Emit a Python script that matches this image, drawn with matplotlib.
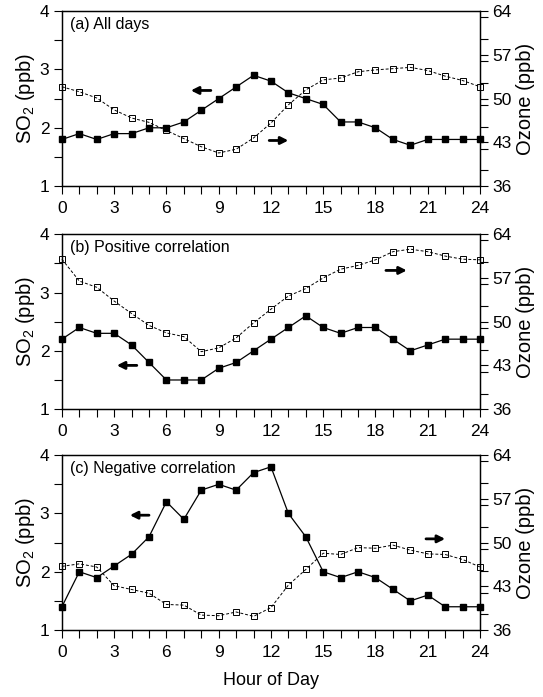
import numpy as np
import matplotlib
matplotlib.use('Agg')
import matplotlib.pyplot as plt
from matplotlib.ticker import MultipleLocator

plt.rcParams['font.family'] = ['Liberation Sans', 'DejaVu Sans']
plt.rcParams['mathtext.default'] = 'regular'

# Hour of day
hours = list(range(25))

# (a) All days
so2_all = [1.8, 1.9, 1.8, 1.9, 1.9, 2.0, 2.0, 2.1, 2.3, 2.5, 2.7, 2.9, 2.8,
           2.6, 2.5, 2.4, 2.1, 2.1, 2.0, 1.8, 1.7, 1.8, 1.8, 1.8, 1.8]
o3_all = [51.9, 51.1, 50.1, 48.2, 46.9, 46.2, 44.9, 43.6, 42.3, 41.3, 41.9, 43.7, 46.1,
          49.0, 51.4, 53.0, 53.3, 54.3, 54.6, 54.8, 55.0, 54.5, 53.6, 52.9, 51.9]

# (b) Positive correlation
so2_pos = [2.2, 2.4, 2.3, 2.3, 2.1, 1.8, 1.5, 1.5, 1.5, 1.7, 1.8, 2.0, 2.2,
           2.4, 2.6, 2.4, 2.3, 2.4, 2.4, 2.2, 2.0, 2.1, 2.2, 2.2, 2.2]
o3_pos = [60.0, 56.5, 55.5, 53.3, 51.3, 49.4, 48.2, 47.6, 45.2, 45.8, 47.4, 49.8, 52.0,
          54.1, 55.3, 57.0, 58.4, 59.0, 59.9, 61.2, 61.6, 61.2, 60.5, 60.0, 59.9]

# (c) Negative correlation
so2_neg = [1.4, 2.0, 1.9, 2.1, 2.3, 2.6, 3.2, 2.9, 3.4, 3.5, 3.4, 3.7, 3.8,
           3.0, 2.6, 2.0, 1.9, 2.0, 1.9, 1.7, 1.5, 1.6, 1.4, 1.4, 1.4]
o3_neg = [46.2, 46.6, 46.1, 43.1, 42.5, 41.9, 40.1, 40.0, 38.4, 38.3, 38.9, 38.2, 39.6,
          43.2, 45.7, 48.3, 48.1, 49.2, 49.1, 49.6, 48.8, 48.2, 48.1, 47.3, 46.1]

titles = ['(a) All days', '(b) Positive correlation', '(c) Negative correlation']
so2_sets = [so2_all, so2_pos, so2_neg]
o3_sets = [o3_all, o3_pos, o3_neg]

# arrows (tail x, head x, y): left ones on the SO2 axis, right ones on the ozone axis
left_arrows = [(8.55, 7.4, 2.64), (4.3, 3.15, 1.75), (5.0, 3.9, 2.97)]
right_arrows = [(11.9, 13.0, 43.3), (18.6, 19.8, 58.2), (20.9, 22.0, 50.6)]

fig = plt.figure(figsize=(5.43, 6.97), dpi=100)
bottoms = [0.733, 0.413, 0.096]
height = 0.251

for i in range(3):
    ax = fig.add_axes([0.114, bottoms[i], 0.770, height])
    ax2 = ax.twinx()

    ax.plot(hours, so2_sets[i], color='black', lw=0.9, marker='s', ms=5,
            mfc='black', mec='black', clip_on=False, zorder=3)
    ax2.plot(hours, o3_sets[i], color='black', lw=0.7, ls=(0, (3, 2)), marker='s', ms=4.5,
             mfc='none', mec='black', mew=0.7, clip_on=False, zorder=3)

    ax.set_xlim(0, 24)
    ax.set_ylim(1, 4)
    ax2.set_ylim(36, 64)
    ax.xaxis.set_major_locator(MultipleLocator(3))
    ax.xaxis.set_minor_locator(MultipleLocator(1))
    ax.yaxis.set_major_locator(MultipleLocator(1))
    ax.yaxis.set_minor_locator(MultipleLocator(0.5))
    ax2.set_yticks([36, 43, 50, 57, 64])
    ax2.yaxis.set_minor_locator(MultipleLocator(3.5))

    for a in (ax, ax2):
        a.tick_params(which='both', direction='out', labelsize=12.5, width=0.8,
                      length=5.5, pad=3.5)
        for s in a.spines.values():
            s.set_linewidth(0.9)
    ax.tick_params(axis='x', pad=5)

    ax.set_ylabel('SO$_2$ (ppb)', fontsize=14.5, labelpad=2)
    ax2.set_ylabel('Ozone (ppb)', fontsize=14.5, labelpad=3)
    ax.text(0.02, 0.965, titles[i], transform=ax.transAxes, ha='left', va='top', fontsize=11.5)

    tx, hx, y = left_arrows[i]
    ax.annotate('', xy=(hx, y), xytext=(tx, y),
                arrowprops=dict(arrowstyle='-|>', color='black', lw=2, mutation_scale=11,
                                shrinkA=0, shrinkB=0))
    tx, hx, y = right_arrows[i]
    ax2.annotate('', xy=(hx, y), xytext=(tx, y),
                 arrowprops=dict(arrowstyle='-|>', color='black', lw=2, mutation_scale=11,
                                 shrinkA=0, shrinkB=0))

fig.text(0.499, 0.011, 'Hour of Day', ha='center', va='bottom', fontsize=13)

fig.savefig('out.png', dpi=100)
